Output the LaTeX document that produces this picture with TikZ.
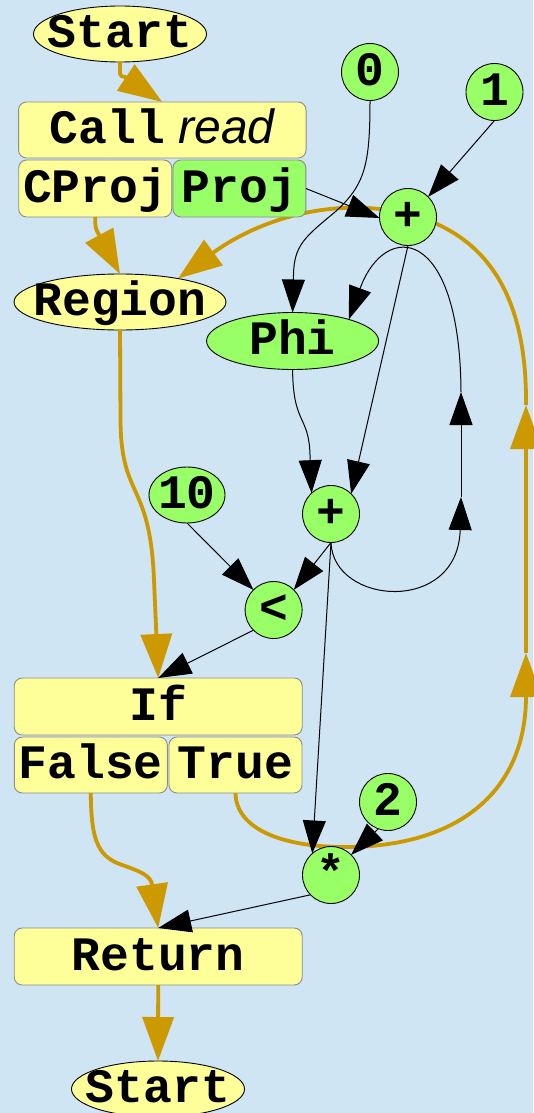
\documentclass[tikz,border=0pt]{standalone}
\usepackage{fontspec}
\setmonofont{Liberation Mono}
\newfontfamily\sansit{Liberation Sans}
\usetikzlibrary{shapes.geometric,arrows.meta}
\definecolor{bgc}{RGB}{207,229,243}
\definecolor{yel}{RGB}{255,255,153}
\definecolor{grn}{RGB}{153,255,102}
\definecolor{gold}{RGB}{204,153,0}
\definecolor{boxline}{RGB}{140,140,140}
\pgfdeclarelayer{bottom}
\pgfdeclarelayer{back}
\pgfsetlayers{bottom,back,main}
\begin{document}
\begin{tikzpicture}[x=1pt,y=-1pt,
  txt/.style={font=\ttfamily\bfseries\fontsize{48}{50}\selectfont, text height=27pt, text depth=0pt, inner sep=0pt, outer sep=0pt},
  ell/.style={txt, ellipse, draw=black, line width=0.9pt, fill=yel},
  gell/.style={ell, fill=grn},
  circ/.style={txt, circle, draw=black, line width=0.9pt, fill=grn, minimum size=57pt},
  bx/.style={txt, rectangle, rounded corners=8pt, draw=boxline, line width=0.9pt, fill=yel},
  gbx/.style={bx, fill=grn},
  blk/.style={draw=black, line width=1pt, -{Triangle[length=33pt,width=23pt]}},
  gld/.style={draw=gold, line width=3.8pt, -{Triangle[length=44pt,width=31pt]}}
]
\begin{pgfonlayer}{bottom}
\fill[bgc] (0,0) rectangle (533,1113);
\end{pgfonlayer}
\useasboundingbox (0,0) rectangle (533,1113);

% nodes
\node[ell, minimum width=173pt, minimum height=56pt] (st1) at (120,34) {\makebox[0pt]{Start}};
\node[bx, minimum width=287.5pt, minimum height=56pt] (call) at (162.3,130) {\makebox[0pt]{Call{\sansit\mdseries\itshape\ read}}};
\node[bx, minimum width=153pt, minimum height=57pt] (cproj) at (95.2,188.5) {\makebox[0pt]{CProj}};
\node[gbx, minimum width=133pt, minimum height=57pt] (proj) at (239.4,188.5) {\makebox[0pt]{Proj}};
\node[circ] (zero) at (370,72) {\makebox[0pt]{0}};
\node[circ] (one) at (494.5,92) {\makebox[0pt]{1}};
\node[circ] (ptop) at (408,217) {\makebox[0pt]{+}};
\node[ell, minimum width=212pt, minimum height=56pt] (region) at (120,302) {\makebox[0pt]{Region}};
\node[gell, minimum width=172pt, minimum height=57pt] (phi) at (292.6,341) {\makebox[0pt]{Phi}};
\node[gell, minimum width=76pt, minimum height=56pt] (ten) at (187,495) {\makebox[0pt]{10}};
\node[circ] (pmid) at (331,514) {\makebox[0pt]{+}};
\node[circ] (lt) at (273.6,610) {\makebox[0pt]{<}};
\node[bx, minimum width=288pt, minimum height=57pt] (if) at (158.2,706.5) {\makebox[0pt]{If}};
\node[bx, minimum width=153pt, minimum height=56pt] (false) at (90.8,765) {\makebox[0pt]{False}};
\node[bx, minimum width=133pt, minimum height=56pt] (true) at (235.5,765) {\makebox[0pt]{True}};
\node[circ] (two) at (388,802) {\makebox[0pt]{2}};
\node[circ] (star) at (331,875) {\makebox[0pt]{*}};
\node[bx, minimum width=288pt, minimum height=57pt] (ret) at (158.2,956.5) {\makebox[0pt]{Return}};
\node[ell, minimum width=173pt, minimum height=56pt] (st2) at (158,1089) {\makebox[0pt]{Start}};

% gold loop behind the + node
\coordinate (ga) at (526,653);
\coordinate (gb) at (526,405);
\begin{pgfonlayer}{back}
\draw[gld] (true.south) .. controls (236,828) and (280,847) .. (345,847) .. controls (460,847) and (526,790) .. (ga);
\draw[gld] (ga) -- (gb);
\draw[gld] (gb) .. controls (527,300) and (490,235) .. (408,214) .. controls (330,195) and (255,222) .. (region.22);
\end{pgfonlayer}

% gold edges
\draw[gld] (st1.south) .. controls (120,76) and (119,76) .. (125,77) -- (call.north);
\draw[gld] (cproj.south) .. controls (95.2,226) and (95.5,229) .. (98,233) -- (region.north);
\draw[gld] (region.south) -- (120.5,420) .. controls (121,500) and (150,480) .. (154,580) -- (if.north);
\draw[gld] (false.south) .. controls (91,845) and (100,858) .. (125,866) .. controls (142,872) and (150,876) .. (152,884) -- (ret.north);
\draw[gld] (ret.south) -- (st2.north);

% black edges
\draw[blk] (proj.east) -- (ptop.182);
\draw[blk] (one.south) -- (ptop.45);
\draw[blk] (zero.south) .. controls (370,165) and (365,185) .. (335,212) .. controls (305,237) and (294,245) .. (293.5,275) -- (phi.north);
\draw[blk] (ptop.south) -- (pmid.45);
\draw[blk] (phi.south) .. controls (293,425) and (309,415) .. (310,455) -- (pmid.133);
\draw[blk] (ten.south) -- (lt.135);
\draw[blk] (pmid.south) -- (lt.45);
\draw[blk] (lt.225) -- (if.north);
\draw[blk] (pmid.south) -- (star.131);
\draw[blk] (two.250) -- (star.45);
\draw[blk] (star.224) -- (ret.north);
\coordinate (la) at (461,497);
\coordinate (lb) at (461,392);
\draw[blk] (pmid.south) .. controls (333,605) and (458,615) .. (la);
\draw[blk] (la) -- (lb);
\draw[blk] (lb) .. controls (460,225) and (385,220) .. (phi.21);
\end{tikzpicture}
\end{document}
